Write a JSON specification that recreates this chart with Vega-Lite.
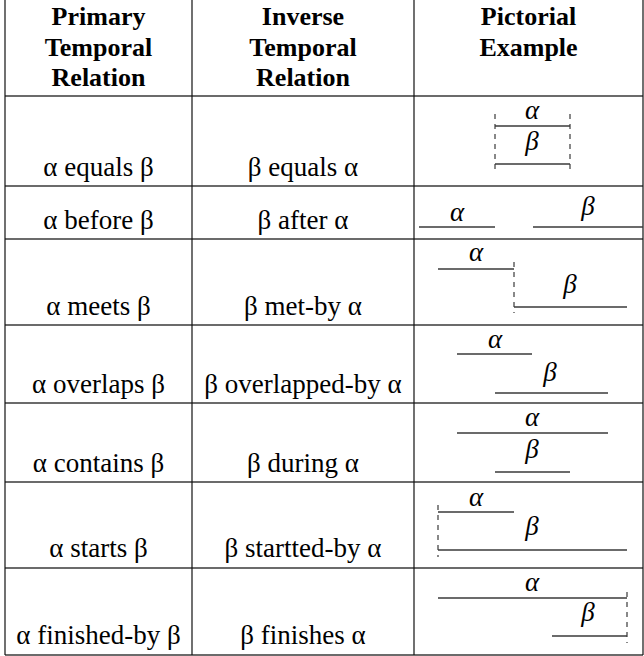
{
  "$schema": "https://vega.github.io/schema/vega-lite/v6.json",
  "width": 644,
  "height": 656,
  "padding": 0,
  "autosize": {"type": "none"},
  "background": "white",
  "config": {"view": {"stroke": null}},
  "datasets": {
    "hlines": [
      {"x": 5, "x2": 643, "y": 96},
      {"x": 5, "x2": 643, "y": 186},
      {"x": 5, "x2": 643, "y": 239},
      {"x": 5, "x2": 643, "y": 325},
      {"x": 5, "x2": 643, "y": 403},
      {"x": 5, "x2": 643, "y": 482},
      {"x": 5, "x2": 643, "y": 568},
      {"x": 5, "x2": 643, "y": 655}
    ],
    "vlines": [
      {"x": 5, "y": 0, "y2": 655},
      {"x": 192, "y": 0, "y2": 655},
      {"x": 414, "y": 0, "y2": 655},
      {"x": 643, "y": 0, "y2": 655}
    ],
    "header": [
      {"x": 98.5, "y": 25, "text": "Primary"},
      {"x": 98.5, "y": 55.5, "text": "Temporal"},
      {"x": 98.5, "y": 86, "text": "Relation"},
      {"x": 303, "y": 25, "text": "Inverse"},
      {"x": 303, "y": 55.5, "text": "Temporal"},
      {"x": 303, "y": 86, "text": "Relation"},
      {"x": 528.5, "y": 25, "text": "Pictorial"},
      {"x": 528.5, "y": 55.5, "text": "Example"}
    ],
    "cells": [
      {"x": 98.5, "y": 176, "text": "α equals β"},
      {"x": 98.5, "y": 229, "text": "α before β"},
      {"x": 98.5, "y": 315, "text": "α meets β"},
      {"x": 98.5, "y": 393, "text": "α overlaps β"},
      {"x": 98.5, "y": 472, "text": "α contains β"},
      {"x": 98.5, "y": 557, "text": "α starts β"},
      {"x": 98.5, "y": 644, "text": "α finished-by β"},
      {"x": 303, "y": 176, "text": "β equals α"},
      {"x": 303, "y": 229, "text": "β after α"},
      {"x": 303, "y": 315, "text": "β met-by α"},
      {"x": 303, "y": 393, "text": "β overlapped-by α"},
      {"x": 303, "y": 472, "text": "β during α"},
      {"x": 303, "y": 557, "text": "β startted-by α"},
      {"x": 303, "y": 644, "text": "β finishes α"}
    ],
    "labels": [
      {"x": 532, "y": 111, "text": "α"},
      {"x": 532, "y": 142, "text": "β"},
      {"x": 457, "y": 213, "text": "α"},
      {"x": 588, "y": 207, "text": "β"},
      {"x": 476, "y": 253, "text": "α"},
      {"x": 570, "y": 285, "text": "β"},
      {"x": 495, "y": 340, "text": "α"},
      {"x": 550, "y": 373, "text": "β"},
      {"x": 532, "y": 418, "text": "α"},
      {"x": 532, "y": 450, "text": "β"},
      {"x": 476, "y": 498, "text": "α"},
      {"x": 532, "y": 527, "text": "β"},
      {"x": 532, "y": 583, "text": "α"},
      {"x": 588, "y": 613, "text": "β"}
    ],
    "bars": [
      {"x": 495, "x2": 570, "y": 126},
      {"x": 495, "x2": 570, "y": 164},
      {"x": 419, "x2": 495, "y": 227},
      {"x": 533, "x2": 643, "y": 227},
      {"x": 438, "x2": 514, "y": 269},
      {"x": 514, "x2": 627, "y": 307},
      {"x": 457, "x2": 532, "y": 354},
      {"x": 495, "x2": 608, "y": 393},
      {"x": 457, "x2": 608, "y": 433},
      {"x": 495, "x2": 570, "y": 472},
      {"x": 438, "x2": 514, "y": 512},
      {"x": 438, "x2": 627, "y": 550},
      {"x": 438, "x2": 627, "y": 598},
      {"x": 552, "x2": 627, "y": 636}
    ],
    "dashes": [
      {"x": 495, "y": 114, "y2": 170},
      {"x": 570, "y": 114, "y2": 170},
      {"x": 514, "y": 262, "y2": 313},
      {"x": 438, "y": 505, "y2": 557},
      {"x": 627, "y": 592, "y2": 643}
    ]
  },
  "layer": [
    {
      "data": {"name": "hlines"},
      "mark": {"type": "rule", "stroke": "#3a3a3a", "strokeWidth": 1.4},
      "encoding": {
        "x": {"field": "x", "type": "quantitative", "scale": {"domain": [0, 644], "nice": false, "zero": false}, "axis": null},
        "x2": {"field": "x2"},
        "y": {"field": "y", "type": "quantitative", "scale": {"domain": [0, 656], "nice": false, "zero": false, "reverse": true}, "axis": null}
      }
    },
    {
      "data": {"name": "vlines"},
      "mark": {"type": "rule", "stroke": "#111111", "strokeWidth": 1.2},
      "encoding": {
        "x": {"field": "x", "type": "quantitative", "axis": null},
        "y": {"field": "y", "type": "quantitative", "axis": null},
        "y2": {"field": "y2"}
      }
    },
    {
      "data": {"name": "bars"},
      "mark": {"type": "rule", "stroke": "#3a3a3a", "strokeWidth": 1.3},
      "encoding": {
        "x": {"field": "x", "type": "quantitative", "axis": null},
        "x2": {"field": "x2"},
        "y": {"field": "y", "type": "quantitative", "axis": null}
      }
    },
    {
      "data": {"name": "dashes"},
      "mark": {"type": "rule", "stroke": "#3a3a3a", "strokeWidth": 1.2, "strokeDash": [5, 5]},
      "encoding": {
        "x": {"field": "x", "type": "quantitative", "axis": null},
        "y": {"field": "y", "type": "quantitative", "axis": null},
        "y2": {"field": "y2"}
      }
    },
    {
      "data": {"name": "header"},
      "mark": {"type": "text", "font": "Liberation Serif", "fontSize": 26, "fontWeight": "bold", "align": "center", "baseline": "alphabetic", "color": "#000000"},
      "encoding": {
        "x": {"field": "x", "type": "quantitative", "axis": null},
        "y": {"field": "y", "type": "quantitative", "axis": null},
        "text": {"field": "text"}
      }
    },
    {
      "data": {"name": "cells"},
      "mark": {"type": "text", "font": "Liberation Serif", "fontSize": 27, "align": "center", "baseline": "alphabetic", "color": "#000000"},
      "encoding": {
        "x": {"field": "x", "type": "quantitative", "axis": null},
        "y": {"field": "y", "type": "quantitative", "axis": null},
        "text": {"field": "text"}
      }
    },
    {
      "data": {"name": "labels"},
      "mark": {"type": "text", "font": "Liberation Serif", "fontSize": 27, "fontStyle": "italic", "align": "center", "baseline": "middle", "color": "#000000"},
      "encoding": {
        "x": {"field": "x", "type": "quantitative", "axis": null},
        "y": {"field": "y", "type": "quantitative", "axis": null},
        "text": {"field": "text"}
      }
    }
  ]
}
